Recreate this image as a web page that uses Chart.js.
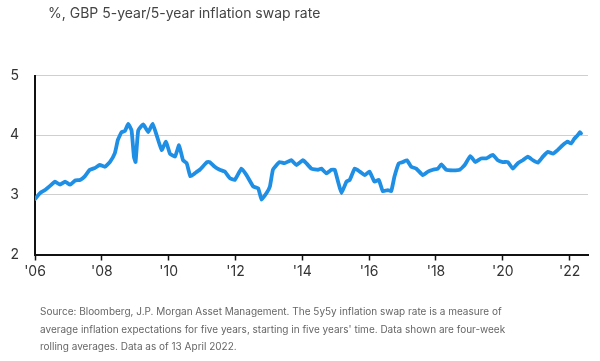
<!DOCTYPE html>
<html lang="en">
<head>
    <meta charset="UTF-8">
    <title>GBP 5y5y inflation swap rate</title>
    <script src="https://cdn.jsdelivr.net/npm/chart.js"></script>
    <style>
        body {
            margin: 0;
            background: #fff;
            font-family: Inter, "Noto Sans", sans-serif;
        }
        .wrap {
            position: relative;
            width: 600px;
            height: 361px;
            overflow: hidden;
        }
        #title {
            position: absolute;
            left: 48px;
            top: 4px;
            font-size: 14px;
            color: #444;
        }
        #note {
            position: absolute;
            left: 40px;
            top: 303px;
            font-size: 10px;
            line-height: 17.5px;
            color: #666;
        }
        canvas {
            position: absolute;
            left: 0;
            top: 0;
        }
    </style>
</head>
<body>
<div class="wrap">
    <canvas id="chart" width="600" height="361"></canvas>
    <div id="title">%, GBP 5-year/5-year inflation swap rate</div>
    <div id="note">Source: Bloomberg, J.P. Morgan Asset Management. The 5y5y inflation swap rate is a measure of<br>average inflation expectations for five years, starting in five years' time. Data shown are four-week<br>rolling averages. Data as of 13 April 2022.</div>
</div>

<script>
    // decimal year of each reading
    const years = [
        2006.00, 2006.15, 2006.30, 2006.45, 2006.60, 2006.75, 2006.90, 2007.05, 2007.20, 2007.35,
        2007.49, 2007.64, 2007.79, 2007.94, 2008.09, 2008.24, 2008.39, 2008.48, 2008.59, 2008.69,
        2008.79, 2008.89, 2008.96, 2009.01, 2009.09, 2009.24, 2009.39, 2009.52, 2009.64, 2009.79,
        2009.92, 2010.04, 2010.19, 2010.31, 2010.43, 2010.54, 2010.65, 2010.78, 2010.93, 2011.15,
        2011.23, 2011.38, 2011.53, 2011.68, 2011.83, 2011.98, 2012.18, 2012.33, 2012.53, 2012.68,
        2012.78, 2012.93, 2013.03, 2013.12, 2013.23, 2013.32, 2013.47, 2013.67, 2013.82, 2014.02,
        2014.12, 2014.27, 2014.47, 2014.57, 2014.72, 2014.87, 2014.97, 2015.07, 2015.17, 2015.32,
        2015.42, 2015.57, 2015.72, 2015.87, 2016.01, 2016.16, 2016.29, 2016.41, 2016.56, 2016.66,
        2016.76, 2016.89, 2017.01, 2017.13, 2017.26, 2017.41, 2017.61, 2017.76, 2017.91, 2018.06,
        2018.16, 2018.31, 2018.51, 2018.71, 2018.86, 2019.03, 2019.18, 2019.35, 2019.50, 2019.70,
        2019.85, 2020.00, 2020.15, 2020.30, 2020.45, 2020.60, 2020.75, 2020.90, 2021.05, 2021.20,
        2021.35, 2021.50, 2021.64, 2021.79, 2021.94, 2022.04, 2022.14, 2022.24, 2022.31, 2022.34
    ];

    // 5y5y swap rate, %
    const rates = [
        2.93, 3.03, 3.08, 3.15, 3.22, 3.17, 3.22, 3.17, 3.24, 3.25,
        3.31, 3.42, 3.45, 3.50, 3.47, 3.55, 3.70, 3.92, 4.05, 4.07,
        4.19, 4.08, 3.64, 3.55, 4.08, 4.18, 4.05, 4.19, 4.00, 3.75,
        3.89, 3.69, 3.64, 3.83, 3.58, 3.53, 3.31, 3.36, 3.42, 3.55,
        3.55, 3.47, 3.42, 3.39, 3.28, 3.25, 3.44, 3.33, 3.14, 3.11,
        2.92, 3.03, 3.14, 3.42, 3.50, 3.55, 3.53, 3.58, 3.50, 3.58,
        3.53, 3.44, 3.42, 3.44, 3.36, 3.42, 3.42, 3.22, 3.03, 3.22,
        3.25, 3.44, 3.39, 3.33, 3.39, 3.22, 3.25, 3.06, 3.08, 3.06,
        3.31, 3.53, 3.55, 3.58, 3.47, 3.44, 3.33, 3.39, 3.42, 3.44,
        3.51, 3.42, 3.41, 3.42, 3.50, 3.65, 3.55, 3.61, 3.61, 3.67,
        3.58, 3.55, 3.55, 3.44, 3.53, 3.58, 3.64, 3.58, 3.54, 3.64,
        3.72, 3.69, 3.75, 3.83, 3.89, 3.86, 3.94, 4.00, 4.05, 4.03
    ];

    const xTicks = [2006, 2008, 2010, 2012, 2014, 2016, 2018, 2020, 2022];
    const yTicks = [2, 3, 4, 5];

    const points = years.map((y, i) => ({ x: y, y: rates[i] }));

    const ctx = document.getElementById('chart').getContext('2d');
    new Chart(ctx, {
        type: 'line',
        data: {
            datasets: [{
                data: points,
                borderColor: '#1f8fe5',
                borderWidth: 3.8,
                borderCapStyle: 'round',
                borderJoinStyle: 'round',
                pointRadius: 0,
                tension: 0.12,
                fill: false
            }]
        },
        options: {
            responsive: false,
            animation: false,
            events: [],
            layout: {
                padding: { top: 75.5, right: 12, bottom: 76.5, left: 0 }
            },
            plugins: {
                legend: { display: false },
                tooltip: { enabled: false }
            },
            scales: {
                x: {
                    type: 'linear',
                    min: 2006,
                    max: 2022.55,
                    afterFit: scale => { scale.height = 30; },
                    afterBuildTicks: scale => {
                        scale.ticks = xTicks.map(v => ({ value: v }));
                    },
                    ticks: {
                        autoSkip: false,
                        maxRotation: 0,
                        padding: 3,
                        color: '#333',
                        font: { family: 'Inter', size: 14 },
                        callback: v => "'" + String(v).slice(2)
                    },
                    grid: {
                        drawOnChartArea: false,
                        drawTicks: true,
                        tickLength: 6,
                        tickColor: '#111',
                        tickWidth: 1.5
                    },
                    border: { color: '#111', width: 2 }
                },
                y: {
                    min: 2,
                    max: 5,
                    afterFit: scale => { scale.width = 35; },
                    afterBuildTicks: scale => {
                        scale.ticks = yTicks.map(v => ({ value: v }));
                    },
                    ticks: {
                        padding: 16,
                        color: '#333',
                        font: { family: 'Inter', size: 14 }
                    },
                    grid: {
                        color: '#cfcfcf',
                        lineWidth: 1,
                        drawTicks: false
                    },
                    border: { color: '#111', width: 2 }
                }
            }
        }
    });
</script>
</body>
</html>
